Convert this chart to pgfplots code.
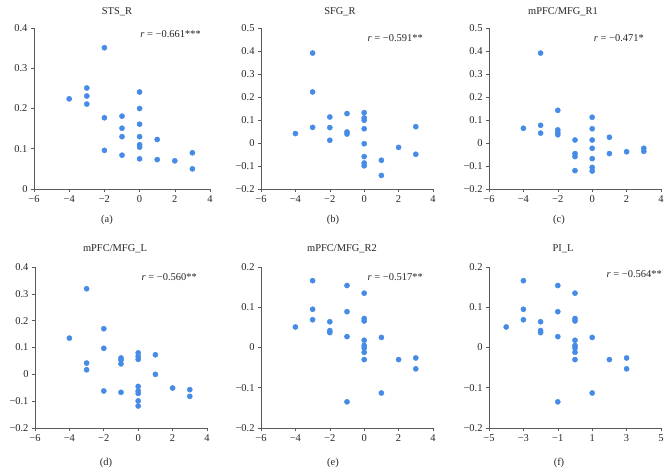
\documentclass[border=0pt]{standalone}
\usepackage{pgfplots}
\pgfplotsset{compat=1.18}
\usepackage{pgfplotstable}
\usepackage{fontspec}
\setmainfont{Liberation Serif}
\definecolor{dotblue}{RGB}{70,140,230}
\definecolor{axgray}{RGB}{90,90,90}

\pgfplotstableread{
x y
-4 0.224
-3 0.251
-3 0.231
-3 0.211
-2 0.351
-2 0.177
-2 0.096
-1 0.181
-1 0.151
-1 0.130
-1 0.084
0 0.241
0 0.200
0 0.161
0 0.130
0 0.110
0 0.104
0 0.075
1 0.123
1 0.073
2 0.070
3 0.090
3 0.050
}\dataA

\pgfplotstableread{
x y
-4 0.041
-3 0.391
-3 0.222
-3 0.068
-2 0.113
-2 0.067
-2 0.012
-1 0.128
-1 0.048
-1 0.039
0 0.132
0 0.109
0 0.099
0 0.062
0 -0.003
0 -0.059
0 -0.087
0 -0.099
1 -0.075
1 -0.141
2 -0.019
3 0.071
3 -0.049
}\dataB

\pgfplotstableread{
x y
-4 0.064
-3 0.391
-3 0.077
-3 0.043
-2 0.142
-2 0.057
-2 0.046
-2 0.036
-1 0.013
-1 -0.046
-1 -0.059
-1 -0.120
0 0.112
0 0.062
0 0.013
0 -0.023
0 -0.068
0 -0.106
0 -0.122
1 0.025
1 -0.046
2 -0.038
3 -0.023
3 -0.036
}\dataC

\pgfplotstableread{
x y
-4 0.135
-3 0.319
-3 0.042
-3 0.017
-2 0.170
-2 0.097
-2 -0.062
-1 0.061
-1 0.053
-1 0.039
-1 -0.067
0 0.080
0 0.067
0 0.056
0 -0.045
0 -0.062
0 -0.071
0 -0.099
0 -0.118
1 0.073
1 0.000
2 -0.051
3 -0.057
3 -0.082
}\dataD

\pgfplotstableread{
x y
-4 0.051
-3 0.166
-3 0.095
-3 0.069
-2 0.064
-2 0.042
-2 0.037
-1 0.154
-1 0.089
-1 0.027
-1 -0.135
0 0.135
0 0.072
0 0.066
0 0.018
0 0.005
0 -0.001
0 -0.012
0 -0.030
1 0.025
1 -0.113
2 -0.030
3 -0.026
3 -0.053
}\dataE

\pgfplotsset{
  myax/.style={
    scale only axis,
    anchor=south west,
    axis lines=left,
    axis line style={-, axgray, line width=0.6pt},
    tick style={axgray, line width=0.6pt},
    tick align=outside,
    major tick length=3bp,
    minor tick num=0,
    clip=false,
    every tick label/.append style={font=\fontsize{10.5}{12}\selectfont, text=black!85},
    xtick={-6,-4,-2,0,2,4},
    xticklabels={−6,−4,−2,0,2,4},
    xmin=-6, xmax=4,
  },
  dots/.style={only marks, mark=*, mark size=2.6bp, color=dotblue, fill=dotblue},
  ylA/.style={ymin=0, ymax=0.4, ytick={0,0.1,0.2,0.3,0.4}, yticklabels={0,0.1,0.2,0.3,0.4}},
  ylB/.style={ymin=-0.2, ymax=0.5, ytick={-0.2,-0.1,0,0.1,0.2,0.3,0.4,0.5}, yticklabels={−0.2,−0.1,0,0.1,0.2,0.3,0.4,0.5}},
  ylD/.style={ymin=-0.2, ymax=0.4, ytick={-0.2,-0.1,0,0.1,0.2,0.3,0.4}, yticklabels={−0.2,−0.1,0,0.1,0.2,0.3,0.4}},
  ylE/.style={ymin=-0.2, ymax=0.2, ytick={-0.2,-0.1,0,0.1,0.2}, yticklabels={−0.2,−0.1,0,0.1,0.2}},
}

\begin{document}
\begin{tikzpicture}
\path (0,0) rectangle (670bp,-473bp);
\tikzset{lab/.style={font=\fontsize{10.5}{12}\selectfont, text=black!85, inner sep=0pt}}

% (a)
\begin{axis}[myax, ylA, at={(34bp,-189bp)}, width=176bp, height=161bp]
\addplot[dots] table {\dataA};
\end{axis}
% (b)
\begin{axis}[myax, ylB, at={(261bp,-189bp)}, width=172bp, height=161bp]
\addplot[dots] table {\dataB};
\end{axis}
% (c)
\begin{axis}[myax, ylB, at={(489bp,-189bp)}, width=172bp, height=161bp]
\addplot[dots] table {\dataC};
\end{axis}
% (d)
\begin{axis}[myax, ylD, at={(35bp,-428bp)}, width=172bp, height=161bp]
\addplot[dots] table {\dataD};
\end{axis}
% (e)
\begin{axis}[myax, ylE, at={(261bp,-428bp)}, width=172bp, height=161bp]
\addplot[dots] table {\dataE};
\end{axis}
% (f)
\begin{axis}[myax, ylE, at={(489bp,-428bp)}, width=172bp, height=161bp,
  xmin=-5, xmax=5, xtick={-5,-3,-1,1,3,5}, xticklabels={−5,−3,−1,1,3,5}]
\addplot[dots] table {\dataE};
\end{axis}

% titles
\node[lab] at (117bp,-12bp) {STS\_R};
\node[lab] at (340bp,-12bp) {SFG\_R};
\node[lab] at (563bp,-12bp) {mPFC/MFG\_R1};
\node[lab] at (115bp,-249bp) {mPFC/MFG\_L};
\node[lab] at (342bp,-249bp) {mPFC/MFG\_R2};
\node[lab] at (563bp,-249bp) {PI\_L};
% sublabels
\node[lab] at (107bp,-220bp) {(a)};
\node[lab] at (333bp,-220bp) {(b)};
\node[lab] at (559bp,-220bp) {(c)};
\node[lab] at (106bp,-463bp) {(d)};
\node[lab] at (333bp,-463bp) {(e)};
\node[lab] at (559bp,-463bp) {(f)};
% r values
\node[lab, anchor=east] at (201bp,-34bp) {\textit{r} = −0.661***};
\node[lab, anchor=east] at (423bp,-38bp) {\textit{r} = −0.591**};
\node[lab, anchor=east] at (644bp,-38bp) {\textit{r} = −0.471*};
\node[lab, anchor=east] at (197bp,-277bp) {\textit{r} = −0.560**};
\node[lab, anchor=east] at (423bp,-277bp) {\textit{r} = −0.517**};
\node[lab, anchor=east] at (662bp,-274bp) {\textit{r} = −0.564**};
\end{tikzpicture}
\end{document}
